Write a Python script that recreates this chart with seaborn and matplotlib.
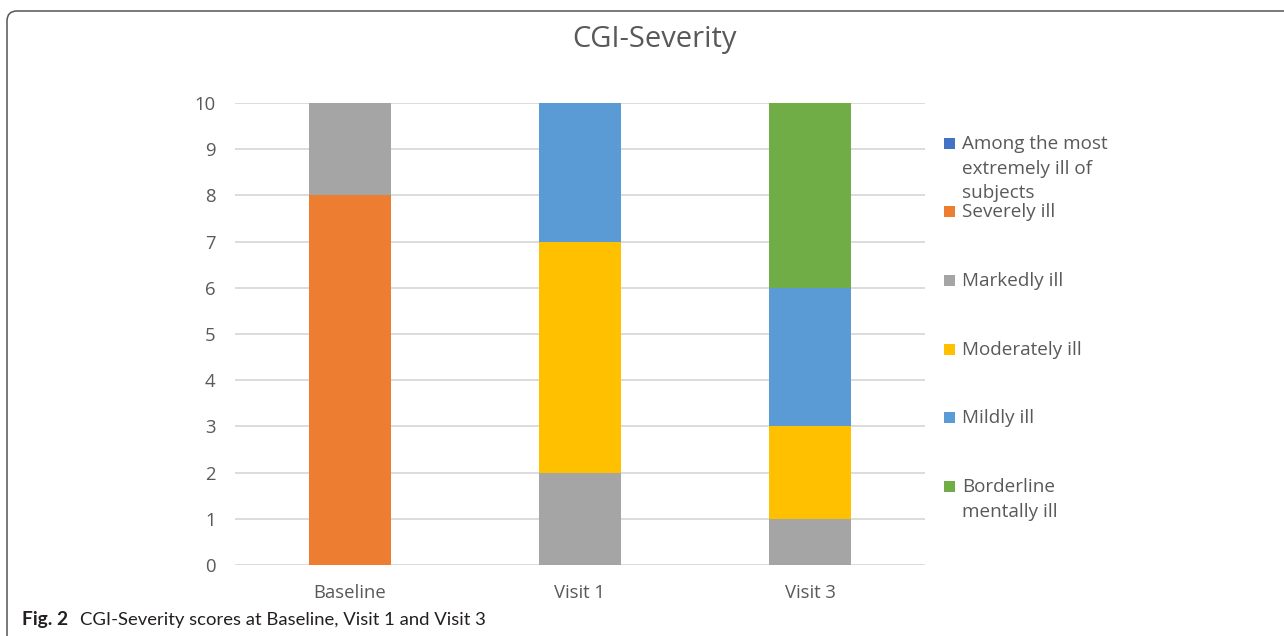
import matplotlib
matplotlib.use("Agg")
import matplotlib.pyplot as plt
import matplotlib.patches as mpatches
import numpy as np
import pandas as pd
import seaborn as sns

# Visits on the x axis
visits = ["Baseline", "Visit 1", "Visit 3"]

# CGI-Severity categories, bottom of the stack first
categories = [
    "Among the most extremely ill of subjects",
    "Severely ill",
    "Markedly ill",
    "Moderately ill",
    "Mildly ill",
    "Borderline mentally ill",
]
legend_labels = [
    "Among the most\nextremely ill of\nsubjects",
    "Severely ill",
    "Markedly ill",
    "Moderately ill",
    "Mildly ill",
    "Borderline\nmentally ill",
]

# Number of subjects per category at each visit
extremely_ill = [0, 0, 0]
severely_ill = [8, 0, 0]
markedly_ill = [2, 2, 1]
moderately_ill = [0, 5, 2]
mildly_ill = [0, 3, 3]
borderline_ill = [0, 0, 4]

colors = ["#4472C4", "#ED7D31", "#A5A5A5", "#FFC000", "#5B9BD5", "#70AD47"]
text_color = "#595959"

sns.set_theme(style="white")
plt.rcParams["font.family"] = ["Open Sans", "DejaVu Sans"]

series = [extremely_ill, severely_ill, markedly_ill,
          moderately_ill, mildly_ill, borderline_ill]
cumulative = np.cumsum(np.array(series, dtype=float), axis=0)

fig = plt.figure(figsize=(12.84, 6.36), dpi=100)
ax = fig.add_axes([235 / 1284, 1 - 565 / 636, 690 / 1284, 462 / 636])

# Stacked bars: draw cumulative totals from the top segment down
for i in range(len(categories) - 1, -1, -1):
    df = pd.DataFrame({"visit": visits, "value": cumulative[i]})
    sns.barplot(data=df, x="visit", y="value", color=colors[i], width=0.357,
                saturation=1, edgecolor="none", linewidth=0, ax=ax, zorder=3)

ax.set_xlim(-0.5, 2.5)
ax.set_ylim(0, 10)
ax.set_yticks(range(0, 11))
ax.yaxis.grid(True, color="#D9D9D9", linewidth=1.3, zorder=0)
ax.set_axisbelow(True)
for s in ax.spines.values():
    s.set_visible(False)
ax.set_xlabel("")
ax.set_ylabel("")
ax.tick_params(axis="both", length=0, labelsize=13.3, labelcolor=text_color)
ax.tick_params(axis="y", pad=14)
ax.tick_params(axis="x", pad=14)

fig.text(655 / 1284, 1 - 40 / 636, "CGI-Severity", ha="center", va="center",
         fontsize=21, color=text_color)

# Legend on the right, one row per category
entry_y = [143, 211, 280, 349, 417, 486]
for label, col, y in zip(legend_labels, colors, entry_y):
    fig.patches.append(mpatches.Rectangle((944, 636 - y - 5.5), 11, 11,
                                          transform=None, facecolor=col,
                                          edgecolor="none"))
    fig.text(962 / 1284, 1 - (y - 8) / 636, label, ha="left", va="top",
             fontsize=13.6, color=text_color, linespacing=1.48)

# Rounded frame around the figure panel
frame = mpatches.FancyBboxPatch((7, -40), 1320, 636 - 11 + 40,
                                boxstyle="round,pad=0,rounding_size=10",
                                transform=None, facecolor="none",
                                edgecolor="#555555", linewidth=1.1)
fig.patches.append(frame)

# Caption
fig.text(22 / 1284, 1 - 620 / 636, "Fig. 2", ha="left", va="center",
         fontsize=13.8, fontweight="bold", color="#231F20", family="Lato")
fig.text(80 / 1284, 1 - 620 / 636,
         "CGI-Severity scores at Baseline, Visit 1 and Visit 3",
         ha="left", va="center", fontsize=13.3, color="#231F20", family="Lato")

fig.savefig("out.png", dpi=100)
